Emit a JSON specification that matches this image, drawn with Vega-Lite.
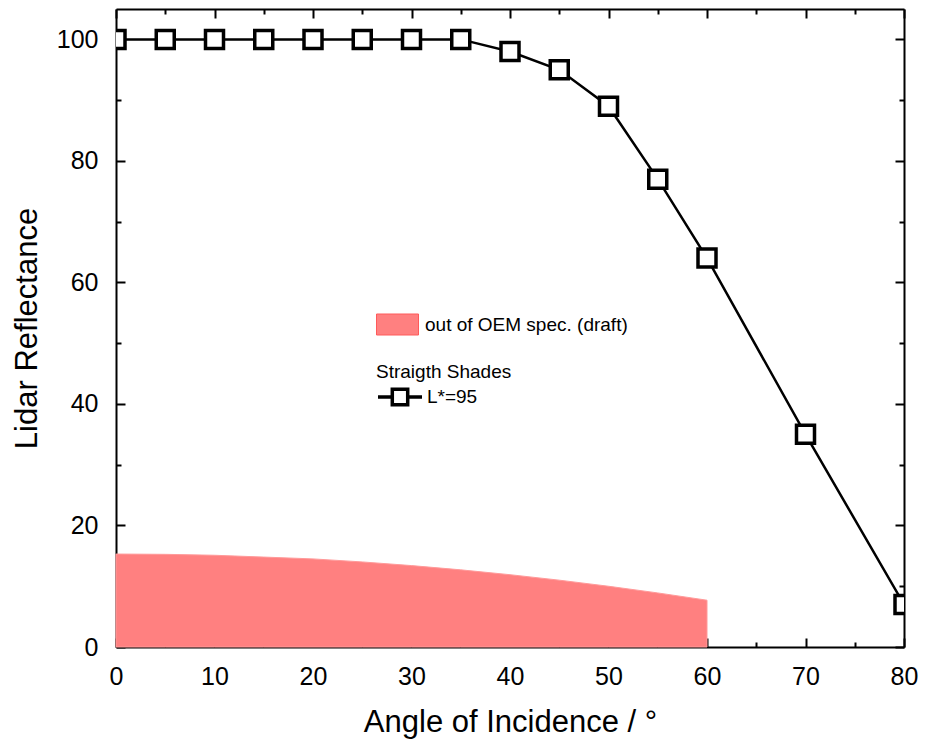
{
  "$schema": "https://vega.github.io/schema/vega-lite/v6.json",
  "width": 788,
  "height": 638,
  "autosize": {"type": "none"},
  "padding": {"left": 116, "top": 9, "right": 36, "bottom": 95},
  "background": "white",
  "config": {
    "font": "Liberation Sans",
    "view": {"stroke": null},
    "axis": {
      "domainColor": "black",
      "domainWidth": 2,
      "tickColor": "black",
      "tickWidth": 2,
      "labelColor": "black",
      "titleColor": "black",
      "labelFontSize": 25,
      "titleFontSize": 31,
      "titleFontWeight": "normal",
      "grid": false
    }
  },
  "datasets": {
    "oem": [
      {"angle": 0, "value": 15.3, "label": "out of OEM spec. (draft)"},
      {"angle": 5, "value": 15.25, "label": "out of OEM spec. (draft)"},
      {"angle": 10, "value": 15.1, "label": "out of OEM spec. (draft)"},
      {"angle": 15, "value": 14.8, "label": "out of OEM spec. (draft)"},
      {"angle": 20, "value": 14.5, "label": "out of OEM spec. (draft)"},
      {"angle": 25, "value": 14.0, "label": "out of OEM spec. (draft)"},
      {"angle": 30, "value": 13.4, "label": "out of OEM spec. (draft)"},
      {"angle": 35, "value": 12.7, "label": "out of OEM spec. (draft)"},
      {"angle": 40, "value": 11.9, "label": "out of OEM spec. (draft)"},
      {"angle": 45, "value": 11.0, "label": "out of OEM spec. (draft)"},
      {"angle": 50, "value": 10.0, "label": "out of OEM spec. (draft)"},
      {"angle": 55, "value": 8.9, "label": "out of OEM spec. (draft)"},
      {"angle": 60, "value": 7.7, "label": "out of OEM spec. (draft)"}
    ],
    "shades": [
      {"angle": 0, "reflectance": 100, "series": "L*=95"},
      {"angle": 5, "reflectance": 100, "series": "L*=95"},
      {"angle": 10, "reflectance": 100, "series": "L*=95"},
      {"angle": 15, "reflectance": 100, "series": "L*=95"},
      {"angle": 20, "reflectance": 100, "series": "L*=95"},
      {"angle": 25, "reflectance": 100, "series": "L*=95"},
      {"angle": 30, "reflectance": 100, "series": "L*=95"},
      {"angle": 35, "reflectance": 100, "series": "L*=95"},
      {"angle": 40, "reflectance": 98, "series": "L*=95"},
      {"angle": 45, "reflectance": 95, "series": "L*=95"},
      {"angle": 50, "reflectance": 89, "series": "L*=95"},
      {"angle": 55, "reflectance": 77, "series": "L*=95"},
      {"angle": 60, "reflectance": 64, "series": "L*=95"},
      {"angle": 70, "reflectance": 35, "series": "L*=95"},
      {"angle": 80, "reflectance": 7, "series": "L*=95"}
    ]
  },
  "layer": [
    {
      "data": {"name": "oem"},
      "mark": {"type": "area", "opacity": 1, "stroke": "#ff9a9a", "strokeWidth": 1},
      "encoding": {
        "x": {
          "field": "angle", "type": "quantitative",
          "scale": {"domain": [0, 80], "nice": false, "zero": false},
          "axis": {
            "orient": "bottom",
            "values": [0, 5, 10, 15, 20, 25, 30, 35, 40, 45, 50, 55, 60, 65, 70, 75, 80],
            "labelExpr": "datum.value % 10 === 0 ? datum.label : ''",
            "tickSize": {"condition": {"test": "datum.value % 10 !== 0", "value": -5}, "value": -9},
            "labelPadding": 26,
            "labelFlush": false,
            "labelOverlap": false,
            "title": "Angle of Incidence / °",
            "titlePadding": 14
          }
        },
        "y": {
          "field": "value", "type": "quantitative",
          "scale": {"domain": [0, 105], "nice": false, "zero": true},
          "axis": {
            "orient": "left",
            "values": [0, 10, 20, 30, 40, 50, 60, 70, 80, 90, 100],
            "labelExpr": "datum.value % 20 === 0 ? datum.label : ''",
            "tickSize": {"condition": {"test": "datum.value % 20 !== 0", "value": -5}, "value": -9},
            "labelPadding": 27,
            "labelFlush": false,
            "labelOverlap": false,
            "title": "Lidar Reflectance",
            "titlePadding": 13
          }
        },
        "color": {
          "field": "label", "type": "nominal",
          "scale": {"range": ["#ff8080"]},
          "legend": {
            "orient": "none", "legendX": 260, "legendY": 294,
            "title": null,
            "padding": 0,
            "symbolType": "M-1,-0.5H1V0.5H-1Z",
            "symbolSize": 1764,
            "symbolStrokeColor": "#ff5a5a",
            "symbolStrokeWidth": 1,
            "symbolOpacity": 1,
            "labelFontSize": 19,
            "labelLimit": 400,
            "labelColor": "black",
            "labelOffset": 6
          }
        }
      }
    },
    {
      "data": {"name": "shades"},
      "mark": {"type": "line", "strokeWidth": 2.5, "clip": true},
      "encoding": {
        "x": {"field": "angle", "type": "quantitative", "scale": {"domain": [0, 80], "nice": false, "zero": false}, "axis": null},
        "y": {"field": "reflectance", "type": "quantitative", "scale": {"domain": [0, 105], "nice": false}, "axis": null},
        "stroke": {
          "field": "series", "type": "nominal",
          "scale": {"range": ["black"]},
          "legend": {
            "orient": "none", "legendX": 260, "legendY": 354,
            "title": "Straigth Shades",
            "titleFontSize": 19,
            "titleFontWeight": "normal",
            "titleColor": "black",
            "titleLimit": 400,
            "titlePadding": -9,
            "padding": 0,
            "symbolType": "M-1,0H-0.35M0.35,0H1M-0.35,-0.35H0.35V0.35H-0.35Z",
            "symbolSize": 1936,
            "symbolStrokeWidth": 3.5,
            "symbolFillColor": "white",
            "labelFontSize": 19,
            "labelLimit": 400,
            "labelColor": "black",
            "labelOffset": 3
          }
        }
      }
    },
    {
      "data": {"name": "shades"},
      "mark": {"type": "point", "shape": "square", "filled": true, "fill": "white", "stroke": "black", "strokeWidth": 3.5, "size": 324, "opacity": 1, "clip": true},
      "encoding": {
        "x": {"field": "angle", "type": "quantitative", "scale": {"domain": [0, 80], "nice": false, "zero": false}, "axis": null},
        "y": {"field": "reflectance", "type": "quantitative", "scale": {"domain": [0, 105], "nice": false}, "axis": null}
      }
    },
    {
      "data": {"name": "shades"},
      "mark": {"type": "point", "opacity": 0},
      "encoding": {
        "x": {
          "field": "angle", "type": "quantitative",
          "scale": {"domain": [0, 80], "nice": false, "zero": false},
          "axis": {
            "orient": "top",
            "values": [0, 5, 10, 15, 20, 25, 30, 35, 40, 45, 50, 55, 60, 65, 70, 75, 80],
            "labels": false,
            "title": null,
            "tickSize": {"condition": {"test": "datum.value % 10 !== 0", "value": -5}, "value": -9}
          }
        },
        "y": {
          "field": "reflectance", "type": "quantitative",
          "scale": {"domain": [0, 105], "nice": false},
          "axis": {
            "orient": "right",
            "values": [0, 10, 20, 30, 40, 50, 60, 70, 80, 90, 100],
            "labels": false,
            "title": null,
            "tickSize": {"condition": {"test": "datum.value % 20 !== 0", "value": -5}, "value": -9}
          }
        }
      }
    }
  ],
  "resolve": {"axis": {"x": "independent", "y": "independent"}}
}
